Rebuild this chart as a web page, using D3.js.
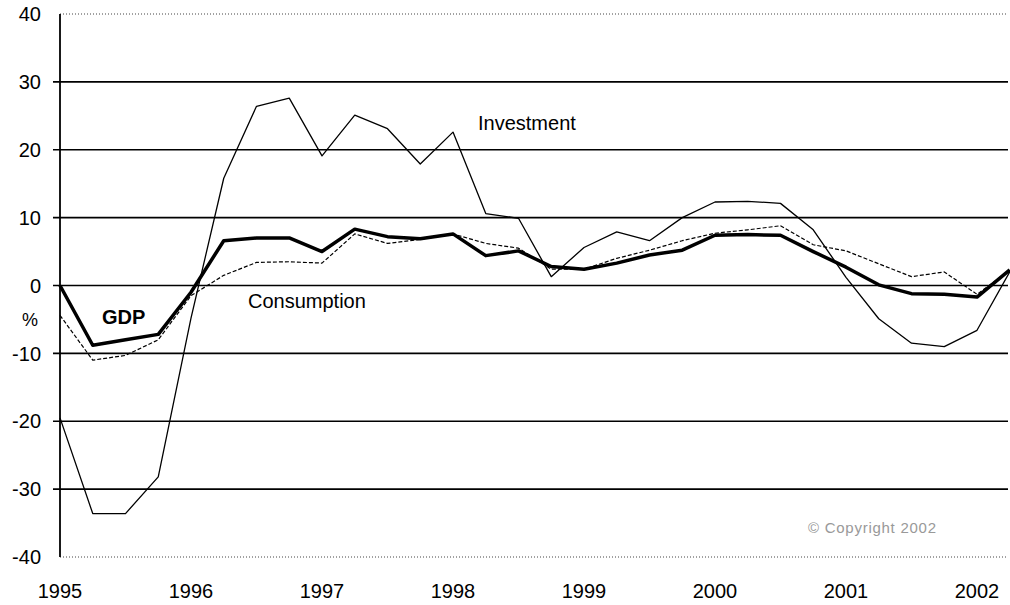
<!DOCTYPE html>
<html>
<head>
<meta charset="utf-8">
<script src="https://cdn.jsdelivr.net/npm/d3@7"></script>
<style>
  html, body { margin: 0; padding: 0; background: #fff; }
  svg { display: block; font-family: "Liberation Sans", Arial, sans-serif; }
</style>
</head>
<body>
<svg id="chart" width="1010" height="605"></svg>
<script>
// ---- data (quarterly, % change) ----
const periods = ["1995Q1","1995Q2","1995Q3","1995Q4","1996Q1","1996Q2","1996Q3","1996Q4",
  "1997Q1","1997Q2","1997Q3","1997Q4","1998Q1","1998Q2","1998Q3","1998Q4",
  "1999Q1","1999Q2","1999Q3","1999Q4","2000Q1","2000Q2","2000Q3","2000Q4",
  "2001Q1","2001Q2","2001Q3","2001Q4","2002Q1","2002Q2"];
const investment = [-19.5, -33.6, -33.6, -28.2, -4.8, 15.8, 26.4, 27.6, 19.1, 25.1, 23.1, 17.9,
  22.6, 10.6, 9.9, 1.3, 5.6, 7.9, 6.6, 10.0, 12.3, 12.4, 12.1, 8.2, 1.2, -4.9, -8.5, -9.0, -6.6, 2.0];
const gdp = [0.0, -8.8, -8.0, -7.2, -1.0, 6.6, 7.0, 7.0, 5.0, 8.3, 7.2, 6.9,
  7.6, 4.4, 5.1, 2.8, 2.4, 3.3, 4.5, 5.2, 7.4, 7.5, 7.4, 5.0, 2.7, 0.1, -1.2, -1.3, -1.7, 2.3];
const consumption = [-4.4, -11.0, -10.3, -8.0, -1.5, 1.5, 3.4, 3.5, 3.3, 7.6, 6.2, 6.8,
  7.6, 6.2, 5.5, 2.4, 2.4, 4.0, 5.2, 6.6, 7.7, 8.2, 8.8, 6.0, 5.1, 3.2, 1.3, 2.0, -1.3, 2.2];
const yearTicks = [1995, 1996, 1997, 1998, 1999, 2000, 2001, 2002];
const yTicks = [-40, -30, -20, -10, 0, 10, 20, 30, 40];

// ---- layout ----
const svg = d3.select("#chart");
const padL = 60, padR = 1009.75, padT = 14, padB = 557;
const toTime = p => +p.slice(0, 4) + (+p.slice(5) - 1) / 4;

const x = d3.scaleLinear().domain([1995, 2002.25]).range([padL, padR]);
const y = d3.scaleLinear().domain([-40, 40]).range([padB, padT]);

// gridlines
const isEdge = d => d === 40 || d === -40;
svg.append("g").selectAll("line").data(yTicks).join("line")
  .attr("x1", d => isEdge(d) ? padL : padL - 7)
  .attr("x2", 1008)
  .attr("y1", d => y(d)).attr("y2", d => y(d))
  .attr("stroke", d => isEdge(d) ? "#444" : "#000")
  .attr("stroke-width", d => isEdge(d) ? 1 : 1.6)
  .attr("stroke-dasharray", d => isEdge(d) ? "1,2" : null);

// y axis line
svg.append("line").attr("x1", padL).attr("x2", padL)
  .attr("y1", y(40)).attr("y2", y(-40))
  .attr("stroke", "#000").attr("stroke-width", 1.8);

// y tick labels
svg.append("g").selectAll("text").data(yTicks).join("text")
  .attr("x", 41).attr("y", d => y(d)).attr("dy", "0.36em")
  .attr("text-anchor", "end").attr("font-size", 20).attr("fill", "#000")
  .text(d => d);

// axis title "%"
svg.append("text").attr("x", 38).attr("y", y(-5)).attr("dy", "0.36em")
  .attr("text-anchor", "end").attr("font-size", 18).text("%");

// x tick labels
svg.append("g").selectAll("text").data(yearTicks).join("text")
  .attr("x", d => x(d)).attr("y", 598)
  .attr("text-anchor", "middle").attr("font-size", 20).attr("fill", "#000")
  .text(d => d);

// lines
const mk = vals => periods.map((p, i) => ({ t: toTime(p), v: vals[i] }));
const line = d3.line().x(d => x(d.t)).y(d => y(d.v));

svg.append("path").datum(mk(consumption)).attr("d", line)
  .attr("fill", "none").attr("stroke", "#000").attr("stroke-width", 1.2)
  .attr("stroke-dasharray", "4,2").attr("stroke-linejoin", "round");
svg.append("path").datum(mk(investment)).attr("d", line)
  .attr("fill", "none").attr("stroke", "#000").attr("stroke-width", 1.3)
  .attr("stroke-linejoin", "round");
svg.append("path").datum(mk(gdp)).attr("d", line)
  .attr("fill", "none").attr("stroke", "#000").attr("stroke-width", 3.5)
  .attr("stroke-linejoin", "round");

// series labels
svg.append("text").attr("x", 478).attr("y", 130).attr("font-size", 20).text("Investment");
svg.append("text").attr("x", 248).attr("y", 308).attr("font-size", 20).text("Consumption");
svg.append("text").attr("x", 102).attr("y", 324).attr("font-size", 20)
  .attr("font-weight", "bold").text("GDP");

// faint copyright
svg.append("text").attr("x", 808).attr("y", 533).attr("font-size", 15)
  .attr("fill", "#999").attr("textLength", 128).attr("lengthAdjust", "spacing")
  .text("© Copyright 2002");
</script>
</body>
</html>
